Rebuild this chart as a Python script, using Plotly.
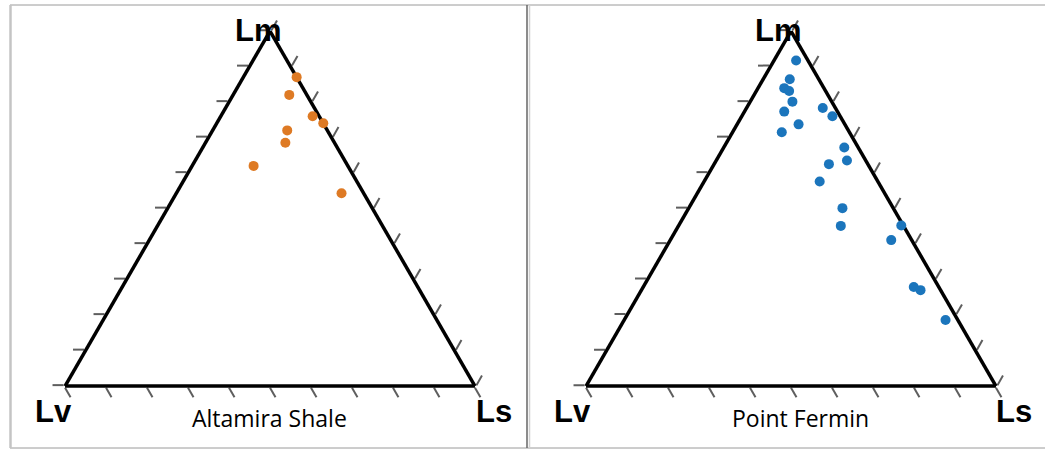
import plotly.graph_objects as go

# Lithic fragment composition (%): Lm = metamorphic, Lv = volcanic, Ls = sedimentary
altamira_lm = [87.0, 82.0, 76.0, 74.0, 72.0, 68.5, 62.0, 54.3]
altamira_lv = [0.0, 4.3, 1.6, 0.0, 9.8, 12.0, 23.0, 5.4]
altamira_ls = [13.0, 13.7, 22.4, 26.0, 18.2, 19.5, 15.0, 40.3]

fermin_lm = [91.7, 86.4, 83.9, 83.1, 80.1, 77.3, 78.3, 76.0, 73.7, 71.5, 67.2,
             63.5, 62.5, 57.6, 50.1, 45.1, 45.2, 41.1, 27.9, 27.0, 18.6]
fermin_lv = [2.9, 7.1, 9.7, 8.9, 9.6, 13.0, 3.1, 1.9, 11.3, 16.5, 3.4,
             4.6, 9.5, 14.2, 12.4, 15.3, 0.5, 5.0, 6.1, 4.9, 3.0]
fermin_ls = [5.4, 6.5, 6.4, 8.0, 10.3, 9.7, 18.6, 22.1, 15.0, 12.0, 29.4,
             31.9, 28.0, 28.2, 37.5, 39.6, 54.3, 53.9, 66.0, 68.1, 78.4]

panel_names = ["Altamira Shale", "Point Fermin"]
apex_labels = ["Lm", "Lv", "Ls"]

W, H = 1045, 451


def px(x):
    return x / W


def py(y):
    return 1 - y / H


fig = go.Figure()

fig.add_trace(go.Scatterternary(
    a=altamira_lm, b=altamira_lv, c=altamira_ls, mode="markers",
    marker=dict(color="#DE7A24", size=10, line=dict(width=0)),
    subplot="ternary", showlegend=False, hoverinfo="a+b+c", cliponaxis=False,
))
fig.add_trace(go.Scatterternary(
    a=fermin_lm, b=fermin_lv, c=fermin_ls, mode="markers",
    marker=dict(color="#1B75BC", size=10, line=dict(width=0)),
    subplot="ternary2", showlegend=False, hoverinfo="a+b+c", cliponaxis=False,
))

axis_style = dict(
    min=0, linecolor="black", linewidth=3.5, showline=True,
    showgrid=False, showticklabels=False,
    ticks="outside", ticklen=11, tickwidth=1.5, tickcolor="#5e5e5e",
    tick0=0, dtick=10, title=dict(text=""),
    layer="below traces",
)


def ternary_layout(cx, top, bottom, width):
    return dict(
        sum=100, bgcolor="white",
        domain=dict(x=[px(cx - width / 2), px(cx + width / 2)],
                    y=[py(bottom), py(top)]),
        aaxis=axis_style, baxis=axis_style, caxis=axis_style,
    )


fig.update_layout(
    width=W, height=H,
    margin=dict(l=0, r=0, t=0, b=0),
    paper_bgcolor="white",
    ternary=ternary_layout(270, 31, 386, 410),
    ternary2=ternary_layout(791, 31, 386, 410),
)

# Panel frames
frame = "#9a9a9a"
fig.add_shape(type="line", xref="paper", yref="paper",
              x0=px(10), x1=1, y0=py(5), y1=py(5),
              line=dict(color=frame, width=1))
fig.add_shape(type="line", xref="paper", yref="paper",
              x0=px(10), x1=1, y0=py(448), y1=py(448),
              line=dict(color=frame, width=1))
fig.add_shape(type="line", xref="paper", yref="paper",
              x0=px(10.5), x1=px(10.5), y0=py(5), y1=py(448),
              line=dict(color="#c4c4c4", width=2.5))
fig.add_shape(type="line", xref="paper", yref="paper",
              x0=px(527), x1=px(527), y0=py(5), y1=py(448),
              line=dict(color="#666666", width=1.5))
fig.add_shape(type="line", xref="paper", yref="paper",
              x0=px(529.5), x1=px(529.5), y0=py(5), y1=py(448),
              line=dict(color="#d0d0d0", width=1.5))

corner_font = dict(family="Liberation Sans, Arial, sans-serif", size=31, color="black")
name_font = dict(family="Open Sans, sans-serif", size=23, color="black")

# Corner labels and panel names
panels = [
    dict(top=(258, 31), left=(53, 411), right=(494, 411), name=(269, 418)),
    dict(top=(778, 31), left=(572, 411), right=(1014, 411), name=(800, 418)),
]
for p, name in zip(panels, panel_names):
    for key, label in zip(["top", "left", "right"], apex_labels):
        x, y = p[key]
        fig.add_annotation(x=px(x), y=py(y), xref="paper", yref="paper",
                           text="<b>%s</b>" % label, showarrow=False,
                           xanchor="center", yanchor="middle", font=corner_font)
    x, y = p["name"]
    fig.add_annotation(x=px(x), y=py(y), xref="paper", yref="paper",
                       text=name, showarrow=False,
                       xanchor="center", yanchor="middle", font=name_font)

fig.write_html("out.html")
